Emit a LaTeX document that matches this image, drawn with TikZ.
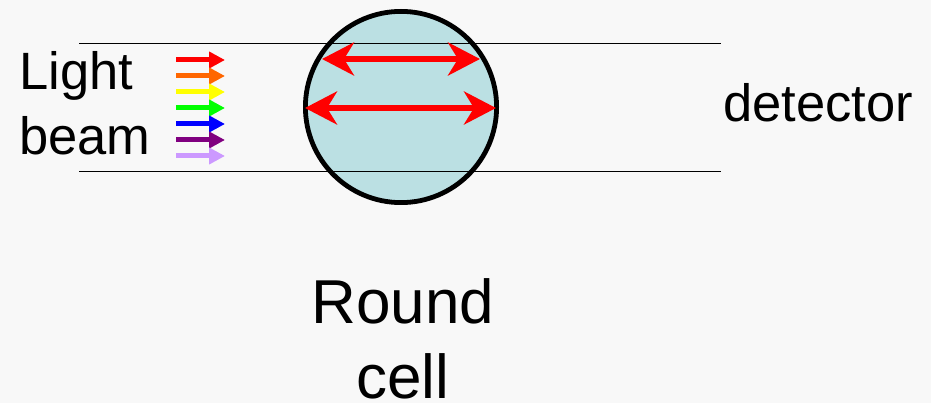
\documentclass[tikz,border=0pt]{standalone}
\usepackage{fontspec}
\setmainfont{Liberation Sans}
\usetikzlibrary{arrows.meta}
\definecolor{bgcol}{HTML}{F8F8F8}
\definecolor{cellfill}{HTML}{BBE0E3}
\definecolor{cOrange}{HTML}{FF6600}
\definecolor{cYellow}{HTML}{FFFF00}
\definecolor{cGreen}{HTML}{00FF00}
\definecolor{cBlue}{HTML}{0000FF}
\definecolor{cPurple}{HTML}{800080}
\definecolor{cLavender}{HTML}{CC99FF}
\tikzset{
  label52/.style={inner sep=0pt, font=\fontsize{52.5}{62}\selectfont},
  label62/.style={inner sep=0pt, font=\fontsize{62}{75}\selectfont},
  beamline/.style={line width=1.9pt, black},
  rayarrow/.style={line width=5pt, -{Triangle[length=16pt,width=16pt]}},
  reflect/.style={line width=6pt, red, {Stealth[length=32pt,width=33pt,inset=10pt]}-{Stealth[length=32pt,width=33pt,inset=10pt]}},
}
\begin{document}
\begin{tikzpicture}[x=1pt,y=-1pt]
  % canvas
  \fill[bgcol] (0,0) rectangle (931,403);
  \useasboundingbox (0,0) rectangle (931,403);

  % round cell
  \node[circle, fill=cellfill, minimum size=194pt, inner sep=0pt] (cell) at (401,107) {};

  % beam boundary lines
  \coordinate (t1) at (79,43.5);
  \coordinate (t2) at (721,43.5);
  \coordinate (b1) at (79,171.5);
  \coordinate (b2) at (721,171.5);
  \draw[beamline] (t1) -- (t2);
  \draw[beamline] (b1) -- (b2);

  % outline of the cell on top of the beam lines
  \draw[line width=4.8pt] (cell.center) circle (95.6pt);

  % reflections inside the cell
  \coordinate (r1a) at (322,59);
  \coordinate (r1b) at (480,59);
  \coordinate (r2a) at (305,108);
  \coordinate (r2b) at (496,108);
  \draw[reflect] (r1a) -- (r1b);
  \draw[reflect] (r2a) -- (r2b);

  % incoming light of several colours
  \foreach \c [count=\i] in {red,cOrange,cYellow,cGreen,cBlue,cPurple,cLavender} {
    \coordinate (s\i) at (176,{44+16*\i});
    \coordinate (e\i) at (225,{44+16*\i});
    \draw[rayarrow, \c] (s\i) -- (e\i);
  }

  % labels
  \node[label52, anchor=base west] (light) at (19,90) {Light};
  \node[label52, anchor=base west] (beam) at (19,155) {beam};
  \node[label52, anchor=base west] (det) at (723,122) {detector};
  \node[label62, anchor=base] (round) at (403,323) {Round};
  \node[label62, anchor=base] (celltxt) at (403,398) {cell};
\end{tikzpicture}
\end{document}
